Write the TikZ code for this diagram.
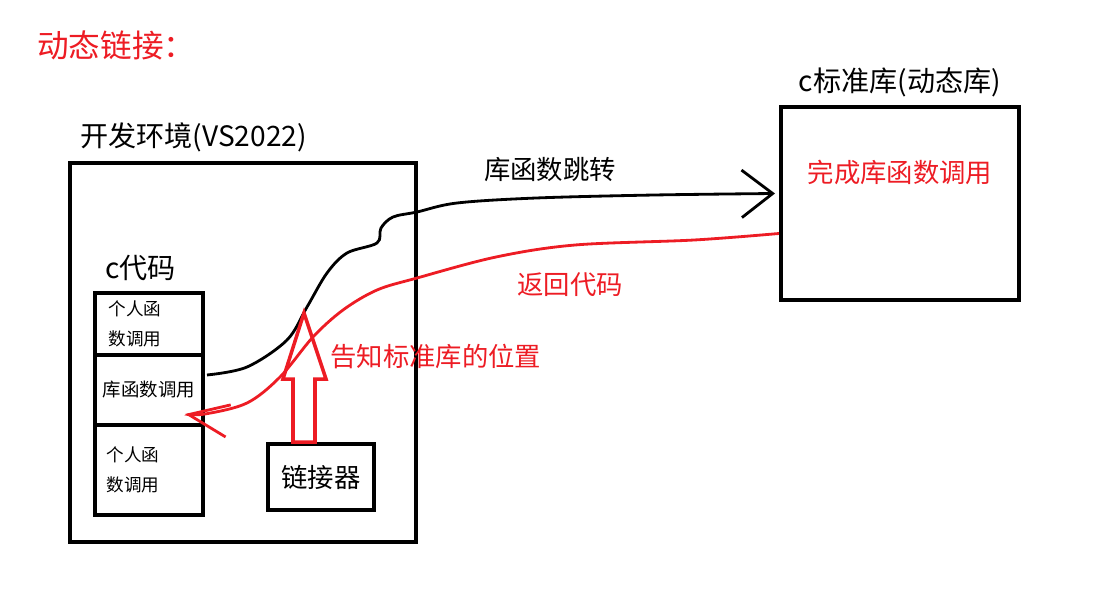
\documentclass[tikz,border=0pt]{standalone}
\usepackage{fontspec}
\setmainfont{Noto Sans CJK SC}
\usetikzlibrary{positioning, calc, arrows.meta}
\definecolor{paintred}{RGB}{237,28,36}

\begin{document}
\begin{tikzpicture}[
    x=0.02cm, y=-0.02cm,
    % Styles
    framebox/.style={draw, line width=2.2pt, inner sep=0pt, outer sep=0pt, anchor=north west},
    codebox/.style={framebox, minimum width=2.16cm, align=left, text width=1.62cm, font=\fontsize{10}{17}\selectfont},
    box_label/.style={font=\fontsize{16}{18}\selectfont, inner sep=0pt},
    red_text/.style={font=\fontsize{15}{17}\selectfont, text=paintred, inner sep=0pt},
    black_text/.style={font=\fontsize{15}{17}\selectfont, inner sep=0pt},
    jump_line/.style={line width=1.6pt, -{Straight Barb[length=0.62cm, width=0.95cm]}},
    return_line/.style={paintred, line width=1.6pt, -{Straight Barb[length=0.8cm, width=0.65cm]}},
    hollow_arrow/.style={draw=paintred, line width=2pt, line join=miter}
]
\useasboundingbox (0,0) rectangle (1105,609);

% 1. Title
\node[red_text, font=\fontsize{18}{20}\selectfont, anchor=west] (title) at (37,45) {动态链接：};

% 2. Development environment
\node[framebox, minimum width=6.92cm, minimum height=7.58cm] (env) at (70,163) {};
\node[box_label, anchor=south west] (env_lbl) at ($(env.north west)+(10,-11)$) {开发环境(VS2022)};

% 3. c code stack
\node[box_label, anchor=west] (code_lbl) at (105,268) {c代码};
\node[codebox, minimum height=1.24cm] (code1) at (95,293) {个人函\\数调用};
\node[codebox, minimum height=1.4cm, below=0pt of code1, text width=1.84cm, font=\fontsize{10.5}{12}\selectfont] (code2) {库函数调用};
\node[codebox, minimum height=1.8cm, below=0pt of code2, text width=1.7cm] (code3) {个人函\\数调用};

% 4. Linker
\node[framebox, black_text, minimum width=2.12cm, minimum height=1.32cm] (linker) at (268,444) {链接器};

% 5. C standard library (dynamic)
\node[framebox, minimum width=4.76cm, minimum height=3.86cm] (lib) at (781,107) {};
\node[box_label, anchor=south] (lib_lbl) at ($(lib.north)+(0,-10)$) {c标准库(动态库)};
\node[red_text] (lib_txt) at ($(lib.north)+(0,65)$) {完成库函数调用};

% 6. Jump to the library and return
\coordinate (jump_start) at ([shift={(4,-15)}]code2.east);
\coordinate (jump_end) at ([shift={(-6,-10)}]lib.west);
\draw[jump_line] plot[smooth, tension=0.55] coordinates {(jump_start) (247,367) (287,340) (307,307) (327,273) (347,253) (377,243) (381,228) (393,217) (417,212) (457,203) (536,198) (654,195) (jump_end)};
\node[black_text] (jump_lbl) at (550,170) {库函数跳转};

\coordinate (ret_start) at ([shift={(-2,30)}]lib.west);
\coordinate (ret_end) at ([shift={(-18,24)}]code2.east);
\draw[return_line] plot[smooth, tension=0.55] coordinates {(ret_start) (694,240) (575,245) (496,257) (417,278) (377,290) (343,310) (313,337) (280,377) (247,403) (205,414) (ret_end)};
\node[red_text] (ret_lbl) at (570,285) {返回代码};

% 7. Linker tells where the library is
\coordinate (hollow_base) at ($(linker.north)+(-17,-2)$);
\draw[hollow_arrow] ($(hollow_base)+(-11,0)$) -- ++(0,-63) -- ++(-10,0) -- ++(21,-66) -- ++(22,66) -- ++(-11,0) -- ++(0,63) -- cycle;
\node[red_text, anchor=west] (tell_lbl) at (330,357) {告知标准库的位置};

\end{tikzpicture}
\end{document}
